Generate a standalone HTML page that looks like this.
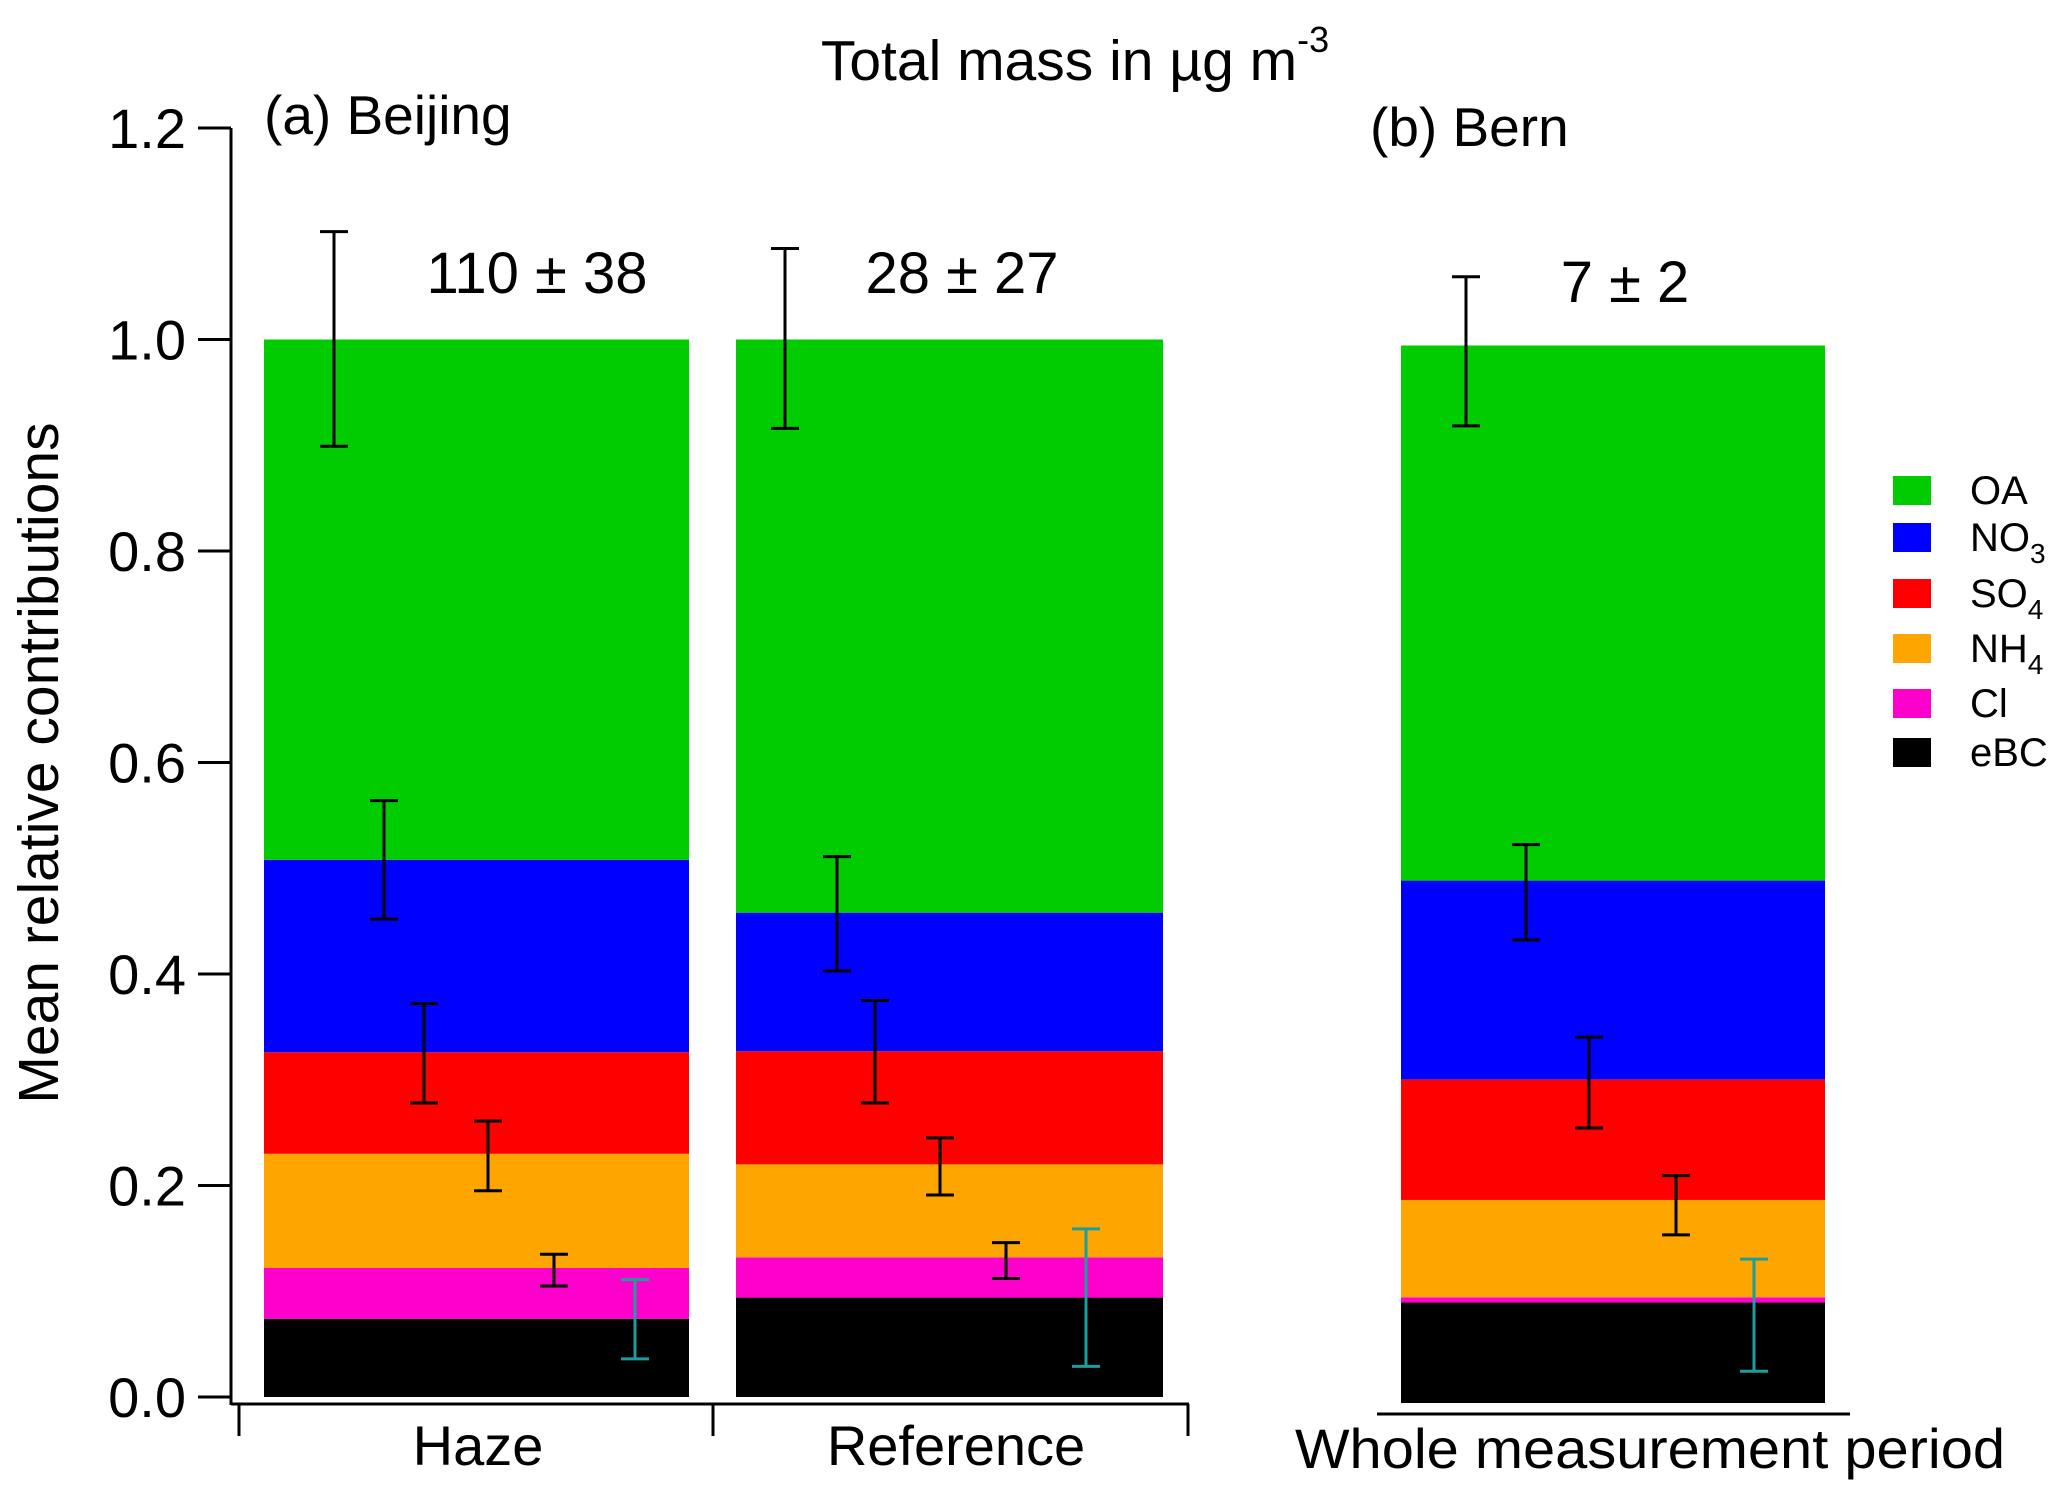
<!DOCTYPE html>
<html><head><meta charset="utf-8"><style>
html,body{margin:0;padding:0;background:#fff;}
svg text{font-family:"Liberation Sans",sans-serif;fill:#000;}
</style></head><body>
<svg id="chart" width="2067" height="1499" viewBox="0 0 2067 1499" xmlns="http://www.w3.org/2000/svg">
<text x="1075" y="80" font-size="57" text-anchor="middle">Total mass in µg m<tspan dy="-28" font-size="36">-3</tspan></text>
<text x="264" y="134" font-size="55">(a) Beijing</text>
<text x="1370" y="146" font-size="55">(b) Bern</text>
<text transform="translate(58,763) rotate(-90)" font-size="57" text-anchor="middle">Mean relative contributions</text>
<g id="axes"></g>
<g id="bars"></g>
<g id="errs"></g>
<g id="legend"></g>
</svg>
<script>
const categories = ["Haze","Reference","Whole measurement period"];
const totals = ["110 ± 38","28 ± 27","7 ± 2"];
const species = ["OA","NO3","SO4","NH4","Cl","eBC"];
const colors = ["#00cc00","#0000ff","#ff0000","#ffa500","#ff00cc","#000000"];
// cumulative tops per category: eBC, Cl, NH4, SO4, NO3, OA
const topsHaze = [0.074,0.122,0.230,0.326,0.508,1.0];
const topsRef  = [0.094,0.132,0.220,0.327,0.458,1.0];
const topsBern = [0.095,0.100,0.192,0.306,0.494,1.0];
// error bars [high, low] for OA, NO3, SO4, NH4, Cl, eBC
const errHaze = [[1.102,0.899],[0.564,0.452],[0.372,0.278],[0.261,0.195],[0.135,0.105],[0.111,0.036]];
const errRef  = [[1.086,0.916],[0.511,0.403],[0.375,0.278],[0.245,0.191],[0.146,0.112],[0.159,0.029]];
const errBern = [[1.065,0.924],[0.528,0.438],[0.346,0.260],[0.215,0.159],null,[0.136,0.030]];
const yTicks = [0,0.2,0.4,0.6,0.8,1.0,1.2];
const yTickLabels = ["0.0","0.2","0.4","0.6","0.8","1.0","1.2"];

const NS="http://www.w3.org/2000/svg";
function mk(tag,attrs,parent){const e=document.createElementNS(NS,tag);for(const k in attrs)e.setAttribute(k,attrs[k]);parent.appendChild(e);return e;}
const unit=1057.5;
function yA(v){return 1397-v*unit;}
function yB(v){return 1403-v*unit;}
const axes=document.getElementById('axes');
let l=mk('line',{x1:231,y1:yA(1.2),x2:231,y2:1405,stroke:'#000','stroke-width':3},axes);


yTicks.forEach((t,i)=>{
  const tk=mk('line',{x1:198,y1:yA(t),x2:231,y2:yA(t),stroke:'#000','stroke-width':3},axes);
  
  
  const tx=mk('text',{x:186,y:yA(t)+20,'font-size':56,'text-anchor':'end'},axes);
  tx.textContent=yTickLabels[i];
  
  
});
l=mk('line',{x1:231,y1:1404,x2:1189,y2:1404,stroke:'#000','stroke-width':3},axes);


[239,713,1188].forEach(x=>{
  const tk=mk('line',{x1:x,y1:1404,x2:x,y2:1436,stroke:'#000','stroke-width':3},axes);
  
  
});
l=mk('line',{x1:1377,y1:1414,x2:1850,y2:1414,stroke:'#000','stroke-width':3},axes);



const barX=[[264,689],[736,1163],[1401,1825]];
const tops=[topsHaze,topsRef,topsBern];
const errs=[errHaze,errRef,errBern];
const yf=[yA,yA,yB];
const errXs=[[334,384,424,488,554,635],[785,837,875,940,1006,1086],[1466,1526,1589,1676,null,1754]];
const labelX=[478,956,1650], labelY=[1465,1465,1468];
const totX=[537,962,1625], totY=[293,293,302];
const bars=document.getElementById('bars'), eg=document.getElementById('errs');
const order=[5,4,3,2,1,0];
categories.forEach((c,ci)=>{
  let prev=0;
  tops[ci].forEach((t,si)=>{
    const sp=order[si];
    const r=mk('rect',{x:barX[ci][0],y:yf[ci](t),width:barX[ci][1]-barX[ci][0],height:Math.max(0,yf[ci](prev)-yf[ci](t)),fill:colors[sp]},bars);
    
    
    prev=t;
  });
  errs[ci].forEach((e,k)=>{
    if(!e)return;
    const x=errXs[ci][k], col=k===5?'#1a9e9e':'#000';
    const g=mk('g',{stroke:col,'stroke-width':3},eg);
    
    
    mk('line',{x1:x,y1:yf[ci](e[0]),x2:x,y2:yf[ci](e[1])},g);
    mk('line',{x1:x-14,y1:yf[ci](e[0]),x2:x+14,y2:yf[ci](e[0])},g);
    mk('line',{x1:x-14,y1:yf[ci](e[1]),x2:x+14,y2:yf[ci](e[1])},g);
  });
  const attrs={x:labelX[ci],y:labelY[ci],'font-size':56,'text-anchor':'middle'};
  if(ci===2){attrs.textLength=710;attrs.lengthAdjust='spacingAndGlyphs';}
  const lt=mk('text',attrs,axes);
  lt.textContent=c;
  
  
  const tt=mk('text',{x:totX[ci],y:totY[ci],'font-size':58,'text-anchor':'middle'},axes);
  tt.textContent=totals[ci];
  
  
});
const lg=document.getElementById('legend');
const legY=[490,537,593,648,703,752];
const legLab=[["OA",""],["NO","3"],["SO","4"],["NH","4"],["Cl",""],["eBC",""]];
species.forEach((s,i)=>{
  const r=mk('rect',{x:1893,y:legY[i]-14,width:38,height:29,fill:colors[i]},lg);
  
  
  const t=mk('text',{x:1970,y:legY[i]+14,'font-size':40},lg);
  
  
  t.textContent=legLab[i][0];
  if(legLab[i][1]){const ts=mk('tspan',{dy:12,'font-size':28},t);ts.textContent=legLab[i][1];}
});
</script>
</body></html>
